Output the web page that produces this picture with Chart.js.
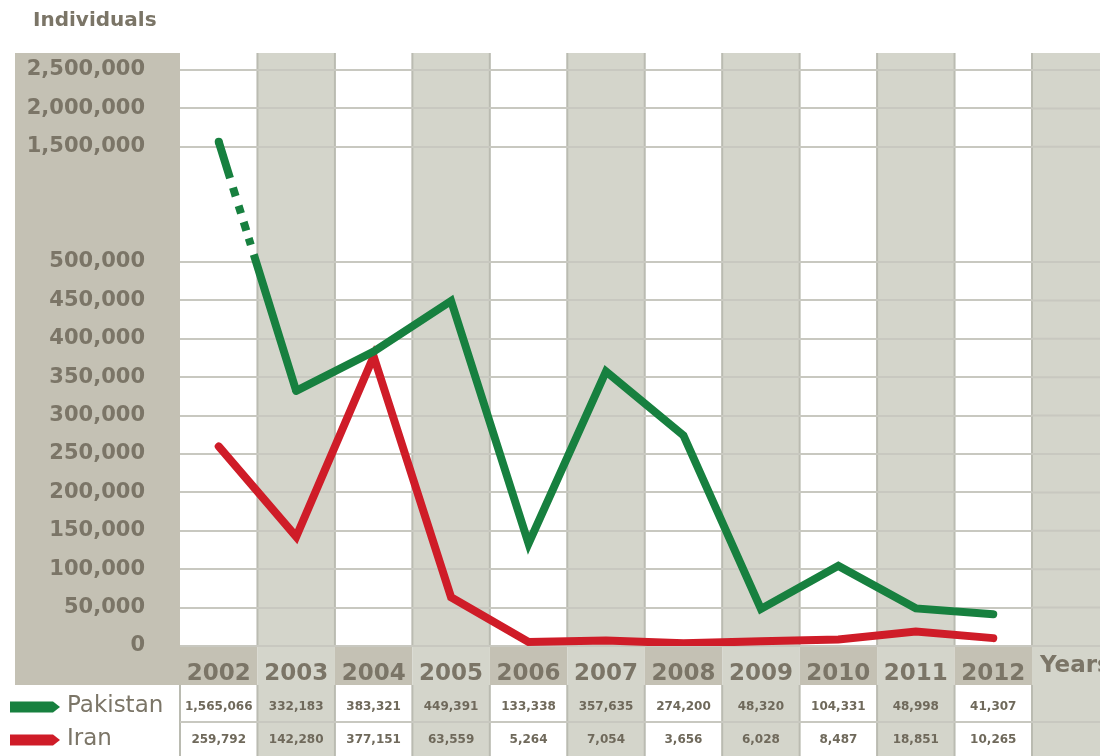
<!DOCTYPE html>
<html>
<head>
<meta charset="utf-8">
<script src="https://cdn.jsdelivr.net/npm/chart.js@4.4.1/dist/chart.umd.min.js"></script>
<style>
  html, body { margin: 0; padding: 0; background: #ffffff; overflow: hidden; }
  #wrap { width: 1100px; height: 756px; position: relative; }
</style>
</head>
<body>
<div id="wrap"><canvas id="chart" width="1100" height="756"></canvas></div>
<script>
// ---------- data ----------
const years = ['2002', '2003', '2004', '2005', '2006', '2007', '2008', '2009', '2010', '2011', '2012'];
const pakistan = [1565066, 332183, 383321, 449391, 133338, 357635, 274200, 48320, 104331, 48998, 41307];
const iran = [259792, 142280, 377151, 63559, 5264, 7054, 3656, 6028, 8487, 18851, 10265];
const yTickValues = [0, 50000, 100000, 150000, 200000, 250000, 300000, 350000, 400000, 450000, 500000, 1500000, 2000000, 2500000];
// broken axis: value breakpoints and their relative spacing in tick units
const breakValues = [0, 500000, 1500000, 2500000];
const breakUnits = [0, 10, 13, 15];
const yTitle = 'Individuals';
const xTitle = 'Years';

// ---------- style ----------
const FONT = 'DejaVu Sans';
const TEXT = '#7b7567';
const TAUPE = '#c4c1b4';
const COLGRAY = '#d4d5cb';
const GRID = '#c8c8c0';
const EDGE = '#babbb1';
const GREEN = '#17803f';
const RED = '#cf1c28';

function interp(v, from, to) {
  for (let i = 1; i < from.length; i++) {
    if (v <= from[i] || i === from.length - 1) {
      const a = from[i - 1], b = from[i];
      return to[i - 1] + (v - a) / (b - a) * (to[i] - to[i - 1]);
    }
  }
  return to[0];
}
const toUnits = v => interp(v, breakValues, breakUnits);
const fromUnits = u => interp(u, breakUnits, breakValues);

class BrokenLinearScale extends Chart.LinearScale {
  getPixelForValue(value) {
    if (value === null || value === undefined || isNaN(value)) return NaN;
    const u0 = toUnits(this.min), u1 = toUnits(this.max);
    return this.getPixelForDecimal((toUnits(value) - u0) / (u1 - u0));
  }
  getValueForPixel(pixel) {
    const u0 = toUnits(this.min), u1 = toUnits(this.max);
    return fromUnits(u0 + this.getDecimalForPixel(pixel) * (u1 - u0));
  }
}
BrokenLinearScale.id = 'brokenLinear';
BrokenLinearScale.defaults = Chart.LinearScale.defaults;
Chart.register(BrokenLinearScale);

const fmt = v => Number(v).toLocaleString('en-US');

const backdrop = {
  id: 'backdrop',
  beforeDraw(chart) {
    const { ctx, chartArea: a, scales: { x, y } } = chart;
    const colW = x.getPixelForValue(1) - x.getPixelForValue(0);
    const top = a.top - 17;
    const rowBottom = x.bottom;
    const H = chart.height, W = chart.width;
    ctx.save();
    // y-axis panel and year band
    ctx.fillStyle = TAUPE;
    ctx.fillRect(y.left, top, a.left - y.left, rowBottom - top);
    years.forEach((yr, i) => {
      const l = x.getPixelForValue(i) - colW / 2;
      if (i % 2 === 1) {
        ctx.fillStyle = COLGRAY;
        ctx.fillRect(l, top, colW, H - top);
      } else {
        ctx.fillStyle = TAUPE;
        ctx.fillRect(l, a.bottom, colW, rowBottom - a.bottom);
      }
    });
    ctx.fillStyle = COLGRAY;
    ctx.fillRect(a.right, top, W - a.right, H - top);
    // column edges
    ctx.strokeStyle = EDGE;
    ctx.lineWidth = 2;
    const edges = [];
    years.forEach((yr, i) => {
      if (i % 2 === 1) {
        const c = x.getPixelForValue(i);
        edges.push(c - colW / 2, c + colW / 2);
      }
    });
    edges.push(a.right);
    ctx.beginPath();
    edges.forEach(e => {
      ctx.moveTo(e, top); ctx.lineTo(e, a.bottom);
      ctx.moveTo(e, rowBottom); ctx.lineTo(e, H);
    });
    ctx.moveTo(a.left, rowBottom); ctx.lineTo(a.left, H);
    ctx.stroke();
    // axis title
    ctx.fillStyle = TEXT;
    ctx.font = 'bold 20px "' + FONT + '"';
    ctx.textAlign = 'left';
    ctx.textBaseline = 'middle';
    ctx.fillText(yTitle, 33, 21);
    ctx.restore();
  },
  beforeDatasetsDraw(chart) {
    const { ctx, chartArea: a, scales: { x, y } } = chart;
    ctx.save();
    ctx.strokeStyle = GRID;
    ctx.lineWidth = 2;
    ctx.beginPath();
    yTickValues.forEach(v => {
      const py = y.getPixelForValue(v);
      ctx.moveTo(a.right, py); ctx.lineTo(chart.width, py);
    });
    // table row separator
    const sep = x.bottom + 37;
    ctx.moveTo(a.left, sep); ctx.lineTo(chart.width, sep);
    ctx.stroke();
    ctx.restore();
  },
  afterDraw(chart) {
    const { ctx, chartArea: a, scales: { x } } = chart;
    ctx.save();
    // "Years" label
    ctx.fillStyle = TEXT;
    ctx.font = 'bold 23px "' + FONT + '"';
    ctx.textAlign = 'left';
    ctx.textBaseline = 'middle';
    ctx.fillText(xTitle, a.right + 8, a.bottom + 6 + 13.8);
    // table
    const rows = [
      { name: 'Pakistan', values: pakistan, color: GREEN, cy: x.bottom + 22 },
      { name: 'Iran', values: iran, color: RED, cy: x.bottom + 55 }
    ];
    rows.forEach(r => {
      // arrow
      ctx.fillStyle = r.color;
      ctx.beginPath();
      ctx.moveTo(10, r.cy - 5.5);
      ctx.lineTo(53, r.cy - 5.5);
      ctx.lineTo(60, r.cy);
      ctx.lineTo(53, r.cy + 5.5);
      ctx.lineTo(10, r.cy + 5.5);
      ctx.closePath();
      ctx.fill();
      // name
      ctx.fillStyle = TEXT;
      ctx.font = '23px "' + FONT + '"';
      ctx.textAlign = 'left';
      ctx.fillText(r.name, 67, r.cy - 1);
      // values
      ctx.fillStyle = '#6f695b';
      ctx.font = 'bold 12px "' + FONT + '"';
      ctx.textAlign = 'center';
      r.values.forEach((v, i) => {
        ctx.fillText(fmt(v), x.getPixelForValue(i), r.cy);
      });
    });
    ctx.restore();
  }
};

const dashBreak = [38, 10, 9, 10, 8, 9, 9, 8, 7, 10, 1000];

new Chart(document.getElementById('chart'), {
  type: 'line',
  data: {
    labels: years,
    datasets: [
      {
        label: 'Pakistan',
        data: pakistan,
        borderColor: GREEN,
        backgroundColor: GREEN,
        borderWidth: 8,
        borderCapStyle: 'round',
        borderJoinStyle: 'miter',
        pointRadius: ctx => ctx.dataIndex === 0 ? 4 : 0,
        pointBackgroundColor: GREEN,
        pointBorderWidth: 0,
        pointHoverRadius: 0,
        tension: 0,
        fill: false,
        segment: {
          borderDash: ctx => ctx.p0DataIndex === 0 ? dashBreak : undefined,
          borderCapStyle: ctx => ctx.p0DataIndex === 0 ? 'butt' : undefined
        }
      },
      {
        label: 'Iran',
        data: iran,
        borderColor: RED,
        backgroundColor: RED,
        borderWidth: 8,
        borderCapStyle: 'round',
        borderJoinStyle: 'miter',
        pointRadius: 0,
        pointHoverRadius: 0,
        tension: 0,
        fill: false
      }
    ]
  },
  options: {
    responsive: false,
    animation: false,
    events: [],
    devicePixelRatio: 1,
    layout: { padding: { left: 15, right: 68, top: 70, bottom: 71 } },
    plugins: {
      legend: { display: false },
      tooltip: { enabled: false },
      title: { display: false }
    },
    scales: {
      x: {
        type: 'category',
        offset: true,
        grid: { display: false },
        border: { display: false },
        ticks: {
          color: TEXT,
          font: { family: FONT, size: 23, weight: 'bold' },
          padding: 6,
          autoSkip: false,
          maxRotation: 0
        },
        afterFit: s => { s.height = 39; }
      },
      y: {
        type: 'brokenLinear',
        min: 0,
        max: 2500000,
        afterBuildTicks: s => { s.ticks = yTickValues.map(v => ({ value: v })); },
        afterFit: s => { s.width = 165; },
        grid: { color: GRID, lineWidth: 2, drawTicks: false },
        border: { display: false },
        ticks: {
          color: TEXT,
          font: { family: FONT, size: 21, weight: 'bold' },
          padding: 35,
          callback: v => fmt(v)
        }
      }
    }
  },
  plugins: [backdrop]
});
</script>
</body>
</html>
